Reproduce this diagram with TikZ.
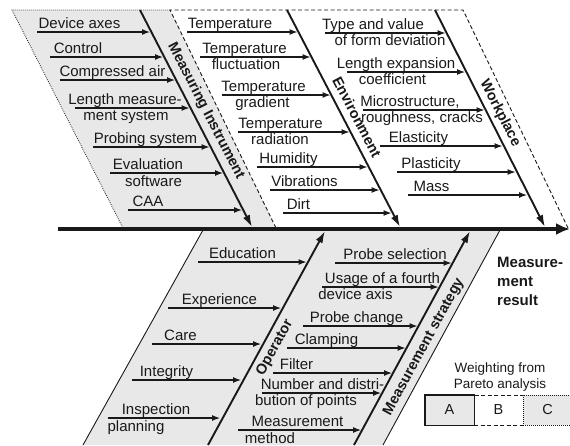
\documentclass[tikz,border=0pt]{standalone}
\usepackage{fontspec}
\setmainfont{Liberation Sans}
\usetikzlibrary{arrows.meta}
\definecolor{fillgray}{gray}{0.91}
\definecolor{inkgray}{gray}{0.1}
\tikzset{
  lbl/.style={font=\fontsize{15}{17}\selectfont, inner sep=0pt, anchor=base, text=inkgray},
  cat/.style={font=\bfseries\fontsize{14.5}{16}\selectfont, inner sep=0pt, text=inkgray},
  cause/.style={line width=1.8pt, draw=inkgray, -{Latex[length=8.5pt,width=6pt]}},
  bone/.style={line width=1.9pt, draw=inkgray, -{Latex[length=12pt,width=7.5pt]}},
  spine/.style={line width=4.5pt, draw=inkgray, -{Latex[length=14pt,width=12pt]}},
  dotborder/.style={draw=inkgray, line width=0.8pt, dash pattern=on 0.8pt off 1.2pt},
  dashborder/.style={draw=inkgray, line width=0.9pt, dash pattern=on 4pt off 2.5pt},
  solidborder/.style={draw=inkgray, line width=0.9pt},
  effect/.style={font=\bfseries\fontsize{15}{17}\selectfont, text=inkgray, inner sep=0pt, anchor=base west},
  legtext/.style={font=\fontsize{13.5}{16}\selectfont, text=inkgray, inner sep=0pt, anchor=base},
  legbox/.style={minimum width=49pt, minimum height=30pt, inner sep=0pt,
    font=\fontsize{14.5}{16}\selectfont, text=inkgray},
}
% a horizontal cause arrow: name, start x, end x (on its bone), y
\newcommand\causearrow[4]{%
  \coordinate (#1-s) at (#2,#4);
  \coordinate (#1-e) at (#3,#4);
  \draw[cause] (#1-s) -- (#1-e);}
\begin{document}
\begin{tikzpicture}[x=1pt,y=-1pt]
\useasboundingbox (0,0) rectangle (570,445);

% ---- category areas ----
\fill[fillgray] (12,10) -- (170,10) -- (276,228) -- (123,228) -- cycle;
\draw[dotborder] (123,228) -- (12,10) -- (170,10);
\draw[dashborder] (276,228) -- (170,10) -- (463,10) -- (568,228);
\fill[fillgray] (203,230) -- (500,230) -- (383,445) -- (83,445) -- cycle;
\draw[solidborder] (203,230) -- (83,445);
\draw[solidborder] (500,230) -- (383,445);

% ---- spine ----
\coordinate (sp-s) at (58,229);
\coordinate (sp-e) at (570,229);
\draw[spine] (sp-s) -- (sp-e);

% ---- main bones ----
\coordinate (mib-s) at (140,10);  \coordinate (mib-e) at (252,227);
\coordinate (envb-s) at (287,10); \coordinate (envb-e) at (400,227);
\coordinate (wpb-s) at (435,10);  \coordinate (wpb-e) at (545,227);
\coordinate (opb-s) at (208,445); \coordinate (opb-e) at (325,231);
\coordinate (msb-s) at (354,445); \coordinate (msb-e) at (470,231);
\draw[bone] (mib-s) -- (mib-e);
\draw[bone] (envb-s) -- (envb-e);
\draw[bone] (wpb-s) -- (wpb-e);
\draw[bone] (opb-s) -- (opb-e);
\draw[bone] (msb-s) -- (msb-e);

% ---- category labels ----
\node[cat, rotate=-62.7] (micat) at (206,111) {Measuring Instrument};
\node[cat, rotate=-62.5] (envcat) at (357,117) {Environment};
\node[cat, rotate=-63] (wpcat) at (500,113) {Workplace};
\node[cat, rotate=61] (opcat) at (275,348) {Operator};
\node[cat, rotate=61.5] (mscat) at (424,347) {Measurement strategy};

% ---- measuring instrument ----
\causearrow{mi1}{37}{150.5}{32}
\causearrow{mi2}{50}{163.5}{57}
\causearrow{mi3}{60}{175.5}{80}
\causearrow{mi4}{75}{190}{108}
\causearrow{mi5}{93}{210}{147}
\causearrow{mi6}{110}{223.5}{173}
\causearrow{mi7}{128}{242.5}{210}
\node[lbl] (mi1t) at (79.5,28) {Device axes};
\node[lbl] (mi2t) at (78,53) {Control};
\node[lbl] (mi3t) at (112.5,76) {Compressed air};
\node[lbl] (mi4t) at (125,104) {Length measure-};
\node[lbl] (mi4u) at (126,120.5) {ment system};
\node[lbl] (mi5t) at (145.5,143) {Probing system};
\node[lbl] (mi6t) at (148,169) {Evaluation};
\node[lbl] (mi6u) at (153.5,186) {software};
\node[lbl] (mi7t) at (148,206) {CAA};

% ---- environment ----
\causearrow{env1}{187}{298}{32}
\causearrow{env2}{200}{311}{57}
\causearrow{env3}{222}{331}{95}
\causearrow{env4}{238}{350}{132}
\causearrow{env5}{257}{368}{167}
\causearrow{env6}{270}{380}{190}
\causearrow{env7}{283}{392}{213}
\node[lbl] (env1t) at (230,28) {Temperature};
\node[lbl] (env2t) at (244.5,53) {Temperature};
\node[lbl] (env2u) at (246,69.5) {fluctuation};
\node[lbl] (env3t) at (263.5,91) {Temperature};
\node[lbl] (env3u) at (262.5,107.5) {gradient};
\node[lbl] (env4t) at (280.5,128) {Temperature};
\node[lbl] (env4u) at (280,144.5) {radiation};
\node[lbl] (env5t) at (288.5,163) {Humidity};
\node[lbl] (env6t) at (304.5,186) {Vibrations};
\node[lbl] (env7t) at (298.5,209) {Dirt};

% ---- workplace ----
\causearrow{wp1}{325}{446}{33}
\causearrow{wp2}{347}{465.5}{72}
\causearrow{wp3}{363}{485}{110}
\causearrow{wp4}{380}{503}{146}
\causearrow{wp5}{397}{516}{172}
\causearrow{wp6}{408}{527.5}{195}
\node[lbl] (wp1t) at (373,29) {Type and value};
\node[lbl] (wp1u) at (390,45.5) {of form deviation};
\node[lbl] (wp2t) at (396,68) {Length expansion};
\node[lbl] (wp2u) at (392.5,84.5) {coefficient};
\node[lbl] (wp3t) at (410,106) {Microstructure,};
\node[lbl] (wp3u) at (422,122.5) {roughness, cracks};
\node[lbl] (wp4t) at (418.5,142) {Elasticity};
\node[lbl] (wp5t) at (431,168) {Plasticity};
\node[lbl] (wp6t) at (431.5,191) {Mass};

% ---- operator ----
\causearrow{op1}{198}{307}{262}
\causearrow{op2}{168}{281.5}{308}
\causearrow{op3}{152}{261.5}{344}
\causearrow{op4}{132}{241.5}{380}
\causearrow{op5}{108}{220.5}{418}
\node[lbl] (op1t) at (242.5,258) {Education};
\node[lbl] (op2t) at (219.5,304) {Experience};
\node[lbl] (op3t) at (180.5,340) {Care};
\node[lbl] (op4t) at (166.5,376) {Integrity};
\node[lbl] (op5t) at (156,414) {Inspection};
\node[lbl] (op5u) at (136,431) {planning};

% ---- measurement strategy ----
\causearrow{ms1}{335}{452}{263}
\causearrow{ms2}{322}{439}{287}
\causearrow{ms3}{303}{418}{326}
\causearrow{ms4}{287}{406}{348}
\causearrow{ms5}{273}{392.5}{373}
\causearrow{ms6}{262}{381.5}{393}
\causearrow{ms7}{238}{361.5}{430}
\node[lbl] (ms1t) at (395,259) {Probe selection};
\node[lbl] (ms2t) at (382.5,283) {Usage of a fourth};
\node[lbl] (ms2u) at (355.5,299.5) {device axis};
\node[lbl] (ms3t) at (356.5,322) {Probe change};
\node[lbl] (ms4t) at (326.5,344) {Clamping};
\node[lbl] (ms5t) at (296.5,369) {Filter};
\node[lbl] (ms6t) at (322.5,389) {Number and distri-};
\node[lbl] (ms6u) at (306,405.5) {bution of points};
\node[lbl] (ms7t) at (297.5,426) {Measurement};
\node[lbl] (ms7u) at (270,443) {method};

% ---- effect ----
\node[effect] (eff1) at (497,267) {Measure-};
\node[effect] (eff2) at (497,286) {ment};
\node[effect] (eff3) at (497,305) {result};

% ---- weighting legend ----
\node[legtext] (leg1) at (500,372) {Weighting from};
\node[legtext] (leg2) at (500,388) {Pareto analysis};
\node[legbox, fill=fillgray, solidborder] (legA) at (449.5,410) {A};
\node[legbox, dashborder] (legB) at (498.5,410) {B};
\node[legbox, fill=fillgray, dotborder] (legC) at (547.5,410) {C};
\draw[solidborder] (legA.north west) rectangle (legA.south east);
\end{tikzpicture}
\end{document}
